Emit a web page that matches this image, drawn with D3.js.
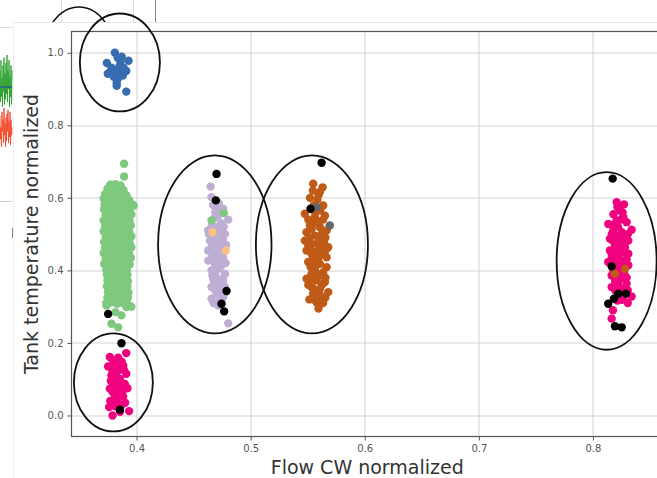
<!DOCTYPE html>
<html>
<head>
<meta charset="utf-8">
<script src="https://cdn.jsdelivr.net/npm/d3@7"></script>
<style>
  body { margin: 0; background: #fff; }
  svg { display: block; font-family: "DejaVu Sans", sans-serif; }
</style>
</head>
<body>
<div class="scatterplot"></div>
<script>
// DATA ------------------------------
const xTicks = [0.4, 0.5, 0.6, 0.7, 0.8];
const yTicks = [0.0, 0.2, 0.4, 0.6, 0.8, 1.0];

// cluster 1 (blue, top left)
const bluePts = [
  [0.381, 1.0], [0.374, 0.972], [0.3835, 0.986], [0.387, 0.989], [0.393, 0.978],
  [0.391, 0.950], [0.3748, 0.942], [0.381, 0.950], [0.3826, 0.917], [0.3826, 0.909],
  [0.391, 0.893], [0.385, 0.964], [0.3887, 0.959], [0.378, 0.959], [0.388, 0.937],
  [0.380, 0.934], [0.3835, 0.928], [0.386, 0.975], [0.3765, 0.945], [0.384, 0.945]
];

// cluster 2 (green, big column)
const greenPts = [
  [0.3891, 0.694], [0.3891, 0.659], [0.3975, 0.578],
  [0.377, 0.636], [0.3815, 0.638], [0.386, 0.634],
  [0.3745, 0.625], [0.3795, 0.623], [0.384, 0.626], [0.3885, 0.622],
  [0.3725, 0.61], [0.377, 0.612], [0.382, 0.608], [0.3865, 0.611], [0.391, 0.607],
  [0.3712, 0.598], [0.3755, 0.596], [0.380, 0.599], [0.3845, 0.595], [0.389, 0.598], [0.3935, 0.594],
  [0.372, 0.582], [0.3765, 0.584], [0.381, 0.58], [0.3855, 0.583], [0.390, 0.579], [0.3965, 0.582],
  [0.3715, 0.568], [0.376, 0.566], [0.3805, 0.569], [0.385, 0.565], [0.3895, 0.568], [0.394, 0.566],
  [0.373, 0.552], [0.3775, 0.554], [0.382, 0.55], [0.3865, 0.553], [0.391, 0.551], [0.3955, 0.554],
  [0.3712, 0.538], [0.376, 0.536], [0.3805, 0.539], [0.385, 0.535], [0.3895, 0.538], [0.394, 0.536],
  [0.3725, 0.522], [0.377, 0.524], [0.3815, 0.52], [0.386, 0.523], [0.3905, 0.521], [0.395, 0.524],
  [0.3712, 0.508], [0.3755, 0.506], [0.380, 0.509], [0.3845, 0.505], [0.389, 0.508], [0.3935, 0.506],
  [0.373, 0.492], [0.3775, 0.494], [0.382, 0.49], [0.3865, 0.493], [0.391, 0.491], [0.3955, 0.494],
  [0.3715, 0.478], [0.376, 0.476], [0.3805, 0.479], [0.385, 0.475], [0.3895, 0.478], [0.394, 0.476],
  [0.3725, 0.462], [0.377, 0.464], [0.3815, 0.46], [0.386, 0.463], [0.3905, 0.461], [0.3955, 0.464],
  [0.3712, 0.448], [0.3755, 0.446], [0.380, 0.449], [0.3845, 0.445], [0.389, 0.448], [0.3935, 0.446],
  [0.373, 0.432], [0.3775, 0.434], [0.382, 0.43], [0.3865, 0.433], [0.391, 0.431], [0.395, 0.434],
  [0.3715, 0.418], [0.376, 0.416], [0.3805, 0.419], [0.385, 0.415], [0.3895, 0.418], [0.394, 0.416],
  [0.3735, 0.402], [0.378, 0.404], [0.3825, 0.40], [0.387, 0.403], [0.3915, 0.401],
  [0.374, 0.388], [0.3785, 0.386], [0.383, 0.389], [0.3875, 0.385], [0.392, 0.388],
  [0.3745, 0.372], [0.379, 0.374], [0.3835, 0.37], [0.388, 0.373], [0.3925, 0.371],
  [0.374, 0.356], [0.3785, 0.354], [0.383, 0.357], [0.3875, 0.353], [0.392, 0.356],
  [0.375, 0.34], [0.3795, 0.342], [0.384, 0.338], [0.3885, 0.341], [0.393, 0.339],
  [0.3745, 0.325], [0.379, 0.323], [0.3835, 0.326], [0.388, 0.322], [0.3925, 0.325],
  [0.3735, 0.31], [0.378, 0.312], [0.383, 0.308], [0.3875, 0.311], [0.392, 0.309],
  [0.3737, 0.303], [0.378, 0.253], [0.3839, 0.243], [0.3868, 0.276], [0.391, 0.299],
  [0.3815, 0.285], [0.3955, 0.30]
];

// cluster 3 (pink, bottom left)
const pinkLowPts = [
  [0.391, 0.172], [0.3766, 0.161], [0.3839, 0.159], [0.381, 0.142], [0.3883, 0.138],
  [0.3751, 0.135], [0.3839, 0.124], [0.391, 0.115], [0.378, 0.110], [0.3854, 0.101],
  [0.381, 0.087], [0.3897, 0.087], [0.3766, 0.074], [0.3854, 0.071], [0.381, 0.055],
  [0.3883, 0.052], [0.376, 0.023], [0.383, 0.037], [0.379, 0.0], [0.3935, 0.012],
  [0.3868, 0.028], [0.3795, 0.15], [0.387, 0.148], [0.3825, 0.13], [0.379, 0.12],
  [0.389, 0.125], [0.383, 0.105], [0.3775, 0.095], [0.3865, 0.09], [0.3835, 0.078],
  [0.392, 0.075], [0.379, 0.065], [0.3875, 0.062], [0.3825, 0.045], [0.377, 0.04],
  [0.390, 0.035], [0.3815, 0.025], [0.3855, 0.01]
];

// cluster 4 (purple)
const purplePts = [
  [0.4649, 0.631], [0.4657, 0.602], [0.4759, 0.570], [0.4716, 0.551], [0.4803, 0.540],
  [0.4628, 0.510], [0.4701, 0.519], [0.4745, 0.501], [0.4643, 0.482], [0.4716, 0.478],
  [0.4628, 0.455], [0.4701, 0.450], [0.4759, 0.436], [0.4628, 0.427], [0.4686, 0.418],
  [0.4745, 0.414], [0.4657, 0.400], [0.4672, 0.377], [0.4759, 0.372], [0.4657, 0.354],
  [0.473, 0.358], [0.4701, 0.336], [0.4759, 0.326], [0.4657, 0.322], [0.4716, 0.303],
  [0.4803, 0.254], [0.467, 0.58], [0.472, 0.585], [0.469, 0.56], [0.474, 0.53],
  [0.466, 0.525], [0.4685, 0.49], [0.4735, 0.465], [0.466, 0.465], [0.4705, 0.435],
  [0.478, 0.42], [0.4665, 0.44], [0.4725, 0.405], [0.469, 0.39], [0.4775, 0.39],
  [0.468, 0.365], [0.4745, 0.345], [0.469, 0.345], [0.4725, 0.315], [0.4675, 0.31],
  [0.4775, 0.355], [0.4775, 0.50], [0.4635, 0.50], [0.4785, 0.47],
  [0.4715, 0.57], [0.4685, 0.545], [0.4765, 0.52], [0.4705, 0.505], [0.4755, 0.485],
  [0.4695, 0.46], [0.4745, 0.45], [0.4715, 0.42], [0.4665, 0.385], [0.4735, 0.375],
  [0.4705, 0.355], [0.4765, 0.335]
];
const purpleGreenPts = [[0.4765, 0.558], [0.4657, 0.538]];
const purpleOrangePts = [[0.4666, 0.505], [0.4783, 0.455]];

// cluster 5 (brown)
const brownPts = [
  [0.5548, 0.639], [0.5631, 0.629], [0.5607, 0.616], [0.5475, 0.556], [0.5636, 0.579],
  [0.5563, 0.547], [0.5651, 0.551], [0.5519, 0.524], [0.5607, 0.519], [0.549, 0.505],
  [0.5666, 0.510], [0.5563, 0.496], [0.5475, 0.482], [0.5622, 0.487], [0.5534, 0.473],
  [0.568, 0.464], [0.549, 0.455], [0.5592, 0.455], [0.5548, 0.436], [0.5666, 0.436],
  [0.5504, 0.423], [0.5607, 0.418], [0.5563, 0.404], [0.5666, 0.409], [0.5534, 0.391],
  [0.5622, 0.386], [0.549, 0.377], [0.5578, 0.372], [0.5651, 0.368], [0.5534, 0.354],
  [0.5607, 0.349], [0.568, 0.340], [0.5548, 0.336], [0.5622, 0.326], [0.5578, 0.312],
  [0.5607, 0.308], [0.552, 0.60], [0.5585, 0.595], [0.5555, 0.58], [0.561, 0.565],
  [0.5505, 0.54], [0.5595, 0.535], [0.5535, 0.515], [0.5625, 0.50], [0.5515, 0.49],
  [0.5585, 0.475], [0.5645, 0.475], [0.5525, 0.46], [0.562, 0.445], [0.5565, 0.425],
  [0.5525, 0.41], [0.5635, 0.395], [0.5575, 0.39], [0.5505, 0.36], [0.5625, 0.36],
  [0.5575, 0.345], [0.5655, 0.325], [0.5515, 0.32], [0.5595, 0.295],
  [0.5545, 0.62], [0.5595, 0.608], [0.5565, 0.56], [0.5635, 0.54], [0.5545, 0.53],
  [0.5655, 0.49], [0.5505, 0.47], [0.5605, 0.465], [0.5535, 0.445], [0.5655, 0.455],
  [0.5595, 0.435], [0.5545, 0.40], [0.5655, 0.38], [0.5535, 0.375], [0.5605, 0.335],
  [0.5555, 0.32], [0.5635, 0.31], [0.5545, 0.35]
];
const brownGrayPts = [[0.5578, 0.574], [0.5694, 0.524]];

// cluster 6 (pink, right)
const pinkRightPts = [
  [0.8208, 0.588], [0.8272, 0.582], [0.8237, 0.565], [0.8266, 0.547], [0.8134, 0.528],
  [0.8208, 0.538], [0.8295, 0.533], [0.8339, 0.512], [0.8178, 0.510], [0.8252, 0.505],
  [0.8149, 0.487], [0.8237, 0.482], [0.831, 0.482], [0.8193, 0.469], [0.8281, 0.464],
  [0.8149, 0.455], [0.8237, 0.450], [0.831, 0.446], [0.8178, 0.432], [0.8266, 0.427],
  [0.8134, 0.423], [0.8222, 0.409], [0.831, 0.414], [0.8164, 0.386], [0.8252, 0.381],
  [0.8295, 0.363], [0.8164, 0.354], [0.8339, 0.328], [0.8252, 0.319], [0.8213, 0.317],
  [0.8164, 0.267], [0.8215, 0.575], [0.818, 0.555], [0.826, 0.56], [0.822, 0.52],
  [0.8165, 0.50], [0.8285, 0.495], [0.821, 0.495], [0.826, 0.475], [0.818, 0.48],
  [0.8215, 0.46], [0.8165, 0.44], [0.8225, 0.435], [0.8295, 0.43], [0.8195, 0.42],
  [0.8255, 0.415], [0.8235, 0.395], [0.8195, 0.37], [0.8275, 0.39], [0.822, 0.36],
  [0.8195, 0.345], [0.8305, 0.345], [0.827, 0.33], [0.8245, 0.35],
  [0.8245, 0.54], [0.8175, 0.525], [0.8305, 0.50], [0.8185, 0.495], [0.8245, 0.47],
  [0.8275, 0.45], [0.8195, 0.445], [0.8265, 0.40], [0.818, 0.40], [0.8235, 0.375],
  [0.8295, 0.38], [0.8215, 0.34], [0.8175, 0.29], [0.8305, 0.31]
];
const pinkRightBrownPts = [[0.8193, 0.391], [0.8281, 0.404]];

// black points (mixed in)
const blackPts = [
  [0.3751, 0.280], [0.3868, 0.199], [0.3854, 0.016],
  [0.4701, 0.666], [0.4695, 0.593], [0.4789, 0.343], [0.4745, 0.308], [0.4768, 0.287],
  [0.5622, 0.697], [0.5525, 0.570],
  [0.8173, 0.653], [0.8164, 0.411], [0.8222, 0.336], [0.8289, 0.336], [0.8134, 0.308],
  [0.8184, 0.322], [0.8193, 0.246], [0.8252, 0.243]
];

// hand drawn ellipses: centre x, centre y, radius x, radius y (data units)
const ellipseCx = [0.3854, 0.3797, 0.4686, 0.5537, 0.812];
const ellipseCy = [0.9733, 0.091, 0.4715, 0.4715, 0.426];
const ellipseRx = [0.0351, 0.0346, 0.0497, 0.0491, 0.0438];
const ellipseRy = [0.1351, 0.1351, 0.2454, 0.2454, 0.2448];

// bits of the screenshot behind (noisy signal, left edge)
const bgGreen = [0.3, 0.9, 0.1, 0.8, 0.45, 1.0, 0.2, 0.7, 0.05, 0.95, 0.35, 0.85, 0.15,
                 0.75, 0.0, 0.9, 0.3, 0.65, 0.1, 1.0, 0.4, 0.8, 0.2, 0.95, 0.3];
const bgRed = [0.2, 0.8, 0.5, 1.0, 0.1, 0.6, 0.3, 0.9, 0.0, 0.7, 0.4, 1.0, 0.25,
               0.85, 0.15, 0.6, 0.05, 0.9, 0.35, 0.75, 0.1, 0.95, 0.3, 0.7, 0.5];

// CHART ------------------------------
const W = 657, H = 478;
const margin = ({top: 31.5, right: -6, bottom: 41.5, left: 71.5});
const width = W - margin.left - margin.right,
      height = H - margin.top - margin.bottom;

const svg = d3.select(".scatterplot")
  .append("svg")
  .attr("width", W)
  .attr("height", H);

svg.append("rect").attr("width", W).attr("height", H).attr("fill", "#fff");

// background screenshot remains --
const bg = svg.append("g");
const tStrip = d3.scaleLinear().domain([0, bgGreen.length - 1]).range([0, 12]);
bg.append("path")
  .attr("d", d3.line().x((d, i) => tStrip(i)).y(d => 55 + d * 52)(bgGreen))
  .attr("fill", "none").attr("stroke", "#2ca02c").attr("stroke-width", 0.9);
bg.append("line").attr("x1", 0).attr("x2", 12).attr("y1", 87).attr("y2", 87)
  .attr("stroke", "#1f4fa0").attr("stroke-width", 1.2);
bg.append("path")
  .attr("d", d3.line().x((d, i) => tStrip(i)).y(d => 108 + d * 39)(bgRed))
  .attr("fill", "none").attr("stroke", "#f04a2a").attr("stroke-width", 0.9);
bg.append("line").attr("x1", 0).attr("x2", 13).attr("y1", 27.5).attr("y2", 27.5)
  .attr("stroke", "#ddd");
bg.append("line").attr("x1", 0).attr("x2", 12).attr("y1", 201.5).attr("y2", 201.5)
  .attr("stroke", "#ccc");
bg.append("line").attr("x1", 12.5).attr("x2", 12.5).attr("y1", 228).attr("y2", 238)
  .attr("stroke", "#888");
[[61.5, "#ddd"], [133.5, "#ddd"], [155.5, "#666"]].forEach(([x, c]) => {
  bg.append("line").attr("x1", x).attr("x2", x).attr("y1", 0).attr("y2", 22)
    .attr("stroke", c).attr("stroke-width", x > 150 ? 0.8 : 1);
});
svg.append("clipPath").attr("id", "topstrip")
  .append("rect").attr("x", 0).attr("y", 0).attr("width", W).attr("height", 22);
bg.append("ellipse")
  .attr("cx", 79).attr("cy", 56).attr("rx", 36).attr("ry", 49)
  .attr("fill", "none").attr("stroke", "#111").attr("stroke-width", 1.6)
  .attr("clip-path", "url(#topstrip)");
// front panel edge
bg.append("line").attr("x1", 13).attr("x2", W).attr("y1", 22.5).attr("y2", 22.5)
  .attr("stroke", "#e6e6e6");
bg.append("line").attr("x1", 13.5).attr("x2", 13.5).attr("y1", 22.5).attr("y2", H)
  .attr("stroke", "#f0f0f0");
svg.append("rect").attr("x", 14).attr("y", 23).attr("width", W).attr("height", H)
  .attr("fill", "#fff");

const g = svg.append("g")
  .attr("transform", `translate(${margin.left},${margin.top})`);

// scales
const xScale = d3.scaleLinear().domain([0.343, 0.8614]).range([0, width]);
const yScale = d3.scaleLinear().domain([-0.058, 1.0587]).range([height, 0]);

// grid
g.append("g").selectAll("line").data(xTicks).join("line")
  .attr("x1", d => Math.round(xScale(d)) + 0.5).attr("x2", d => Math.round(xScale(d)) + 0.5)
  .attr("y1", 0).attr("y2", height)
  .attr("stroke", "#d2d2d2").attr("stroke-width", 1);
g.append("g").selectAll("line").data(yTicks).join("line")
  .attr("y1", d => Math.round(yScale(d)) + 0.5).attr("y2", d => Math.round(yScale(d)) + 0.5)
  .attr("x1", 0).attr("x2", width)
  .attr("stroke", "#d2d2d2").attr("stroke-width", 1);

// axes
const xAxis = d3.axisBottom(xScale).tickValues(xTicks).tickFormat(d3.format(".1f"))
  .tickSize(4).tickPadding(4).tickSizeOuter(0);
const yAxis = d3.axisLeft(yScale).tickValues(yTicks).tickFormat(d3.format(".1f"))
  .tickSize(4).tickPadding(4).tickSizeOuter(0);

const gx = g.append("g").attr("class", "axis x-axis")
  .attr("transform", `translate(0, ${height})`).call(xAxis);
const gy = g.append("g").attr("class", "axis y-axis").call(yAxis);
[gx, gy].forEach(a => {
  a.select(".domain").remove();
  a.selectAll(".tick line").attr("stroke", "#555");
  a.selectAll(".tick text").attr("fill", "#555").style("font-size", "10px")
    .style("font-family", "DejaVu Sans, sans-serif");
});

// frame
g.append("rect").attr("x", 0).attr("y", 0).attr("width", width).attr("height", height)
  .attr("fill", "none").attr("stroke", "#555").attr("stroke-width", 1.2);

// points
const R = 4.2;
function dots(pts, color) {
  g.append("g").selectAll("circle").data(pts).join("circle")
    .attr("cx", d => xScale(d[0]))
    .attr("cy", d => yScale(d[1]))
    .attr("r", R)
    .attr("fill", color);
}
dots(greenPts, "#7fc97f");
dots(bluePts, "#386cb0");
dots(pinkLowPts, "#f0027f");
dots(purplePts, "#beaed4");
dots(purpleGreenPts, "#7fc97f");
dots(purpleOrangePts, "#fdc086");
dots(brownPts, "#bf5b17");
dots(brownGrayPts, "#666666");
dots(pinkRightPts, "#f0027f");
dots(pinkRightBrownPts, "#bf5b17");
dots(blackPts, "#000");

// ellipses
svg.append("g").attr("transform", `translate(${margin.left},${margin.top})`)
  .selectAll("ellipse").data(ellipseCx).join("ellipse")
  .attr("cx", d => xScale(d))
  .attr("cy", (d, i) => yScale(ellipseCy[i]))
  .attr("rx", (d, i) => xScale(d + ellipseRx[i]) - xScale(d))
  .attr("ry", (d, i) => yScale(ellipseCy[i]) - yScale(ellipseCy[i] + ellipseRy[i]))
  .attr("fill", "none").attr("stroke", "#111").attr("stroke-width", 1.8);

// labels
svg.append("text")
  .attr("x", margin.left + width / 2).attr("y", 474)
  .attr("text-anchor", "middle").attr("fill", "#333")
  .style("font-size", "19px")
  .text("Flow CW normalized");

svg.append("text")
  .attr("transform", `translate(37.5, ${margin.top + height / 2}) rotate(-90)`)
  .attr("text-anchor", "middle").attr("fill", "#333")
  .style("font-size", "19px")
  .text("Tank temperature normalized");
</script>
</body>
</html>
